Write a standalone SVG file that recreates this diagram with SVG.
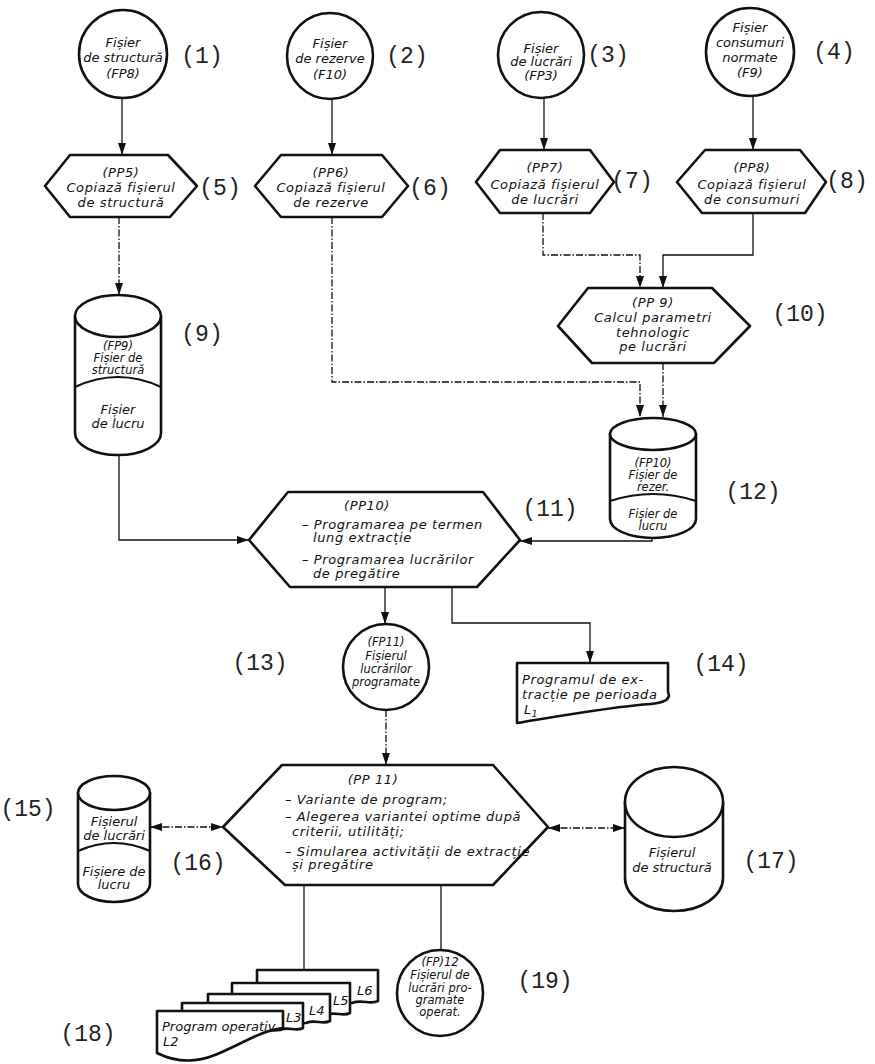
<svg xmlns="http://www.w3.org/2000/svg" width="875" height="1064" viewBox="0 0 875 1064">
<style>
.s{fill:#fff;stroke:#111;stroke-width:2.6;stroke-linejoin:round}
.e{fill:none;stroke:#111;stroke-width:2.2}
.c{fill:none;stroke:#111;stroke-width:1.3}
.d{stroke-dasharray:7 2 1.5 2}
.t{font-family:"DejaVu Sans",sans-serif;font-style:italic;font-size:13px;fill:#111;letter-spacing:0.6px}
.m{text-anchor:middle}
.k{letter-spacing:0}
.sm{font-size:11.5px}
.n{font-family:"Liberation Mono",monospace;font-size:23px;fill:#222;text-anchor:middle}
</style>
<defs>
<marker id="a" viewBox="0 0 12 8" refX="12" refY="4" markerWidth="12" markerHeight="8" orient="auto-start-reverse" markerUnits="userSpaceOnUse"><path d="M0,0 L12,4 L0,8 z" fill="#111"/></marker>
</defs>
<rect width="875" height="1064" fill="#fff"/>

<g id="connectors">
<path class="c" d="M122,98 V155" marker-end="url(#a)"/>
<path class="c" d="M332,99 V155" marker-end="url(#a)"/>
<path class="c" d="M544,98 V150" marker-end="url(#a)"/>
<path class="c" d="M753,96 V150" marker-end="url(#a)"/>
<path class="c d" d="M119,217 V295" marker-end="url(#a)"/>
<path class="c d" d="M332,217 V382 H640 V417" marker-end="url(#a)"/>
<path class="c d" d="M543,213 V255 H640 V288" marker-end="url(#a)"/>
<path class="c" d="M753,213 V255 H663 V288" marker-end="url(#a)"/>
<path class="c d" d="M663,363 V417" marker-end="url(#a)"/>
<path class="c" d="M119,455 V540 H249" marker-end="url(#a)"/>
<path class="c" d="M652,537 V541 H520" marker-end="url(#a)"/>
<path class="c" d="M385,587 V624" marker-end="url(#a)"/>
<path class="c" d="M452,587 V623 H590 V663" marker-end="url(#a)"/>
<path class="c d" d="M386,710 V765" marker-end="url(#a)"/>
<path class="c d" d="M150,827 H223" marker-start="url(#a)" marker-end="url(#a)"/>
<path class="c d" d="M548,828 H625" marker-start="url(#a)" marker-end="url(#a)"/>
<path class="c" d="M304,885 V970"/>
<path class="c" d="M441,885 V950"/>
</g>

<g id="n1">
<circle class="s" cx="123" cy="54" r="44"/>
<text class="t m k" x="123" y="47">Fișier</text>
<text class="t m k" x="123" y="62">de structură</text>
<text class="t m k" x="123" y="78">(FP8)</text>
</g>
<g id="n2">
<circle class="s" cx="330" cy="56" r="43"/>
<text class="t m k" x="330" y="48">Fișier</text>
<text class="t m k" x="330" y="63">de rezerve</text>
<text class="t m k" x="330" y="79">(F10)</text>
</g>
<g id="n3">
<circle class="s" cx="541" cy="55" r="43"/>
<text class="t m k" x="541" y="53">Fișier</text>
<text class="t m k" x="541" y="66">de lucrări</text>
<text class="t m k" x="541" y="80">(FP3)</text>
</g>
<g id="n4">
<circle class="s" cx="750" cy="52" r="44"/>
<text class="t m k" x="750" y="32">Fișier</text>
<text class="t m k" x="750" y="47">consumuri</text>
<text class="t m k" x="750" y="62">normate</text>
<text class="t m k" x="750" y="77">(F9)</text>
</g>

<g id="n5">
<polygon class="s" points="45,186 70,155 168,155 197,186 170,217 70,217"/>
<text class="t m" x="121" y="177">(PP5)</text>
<text class="t m" x="121" y="192">Copiază fișierul</text>
<text class="t m" x="121" y="207">de structură</text>
</g>
<g id="n6">
<polygon class="s" points="255,186 281,155 382,155 408,186 382,217 281,217"/>
<text class="t m" x="331" y="177">(PP6)</text>
<text class="t m" x="331" y="192">Copiază fișierul</text>
<text class="t m" x="331" y="207">de rezerve</text>
</g>
<g id="n7">
<polygon class="s" points="476,182 500,150 590,150 614,182 590,213 500,213"/>
<text class="t m" x="545" y="172">(PP7)</text>
<text class="t m" x="545" y="189">Copiază fișierul</text>
<text class="t m" x="545" y="204">de lucrări</text>
</g>
<g id="n8">
<polygon class="s" points="677,182 705,150 800,150 826,182 805,213 702,213"/>
<text class="t m" x="752" y="172">(PP8)</text>
<text class="t m" x="752" y="189">Copiază fișierul</text>
<text class="t m" x="752" y="204">de consumuri</text>
</g>

<g id="n9">
<path class="s" d="M75,316 V433 A43,22 0 0 0 161,433 V316 Z"/>
<ellipse class="s" cx="118" cy="316" rx="43" ry="21"/>
<path class="e" d="M75,387 Q118,367 161,387"/>
<text class="t m k sm" x="118" y="350">(FP9)</text>
<text class="t m k sm" x="118" y="362">Fișier de</text>
<text class="t m k sm" x="118" y="374">structură</text>
<text class="t m k" x="118" y="414">Fișier</text>
<text class="t m k" x="118" y="428">de lucru</text>
</g>

<g id="n10">
<polygon class="s" points="558,326 588,288 712,288 750,326 714,363 592,363"/>
<text class="t m" x="653" y="307">(PP 9)</text>
<text class="t m" x="653" y="322">Calcul parametri</text>
<text class="t m" x="653" y="337">tehnologic</text>
<text class="t m" x="653" y="351">pe lucrări</text>
</g>

<g id="n12">
<path class="s" d="M610,434 V519 A43,19 0 0 0 696,519 V434 Z"/>
<ellipse class="s" cx="653" cy="434" rx="43" ry="16"/>
<path class="e" d="M610,501 Q653,487 696,501"/>
<text class="t m k sm" x="653" y="467">(FP10)</text>
<text class="t m k sm" x="653" y="479">Fișier de</text>
<text class="t m k sm" x="653" y="491">rezer.</text>
<text class="t m k sm" x="653" y="518">Fișier de</text>
<text class="t m k sm" x="653" y="530">lucru</text>
</g>

<g id="n11">
<polygon class="s" points="249,540 288,492 483,492 520,540 477,587 290,587"/>
<text class="t m" x="367" y="510">(PP10)</text>
<text class="t" x="302" y="529">– Programarea pe termen</text>
<text class="t" x="313" y="542">lung extracție</text>
<text class="t" x="302" y="564">– Programarea lucrărilor</text>
<text class="t" x="313" y="578">de pregătire</text>
</g>

<g id="n13">
<circle class="s" cx="386" cy="667" r="43"/>
<text class="t m k sm" x="386" y="646">(FP11)</text>
<text class="t m k sm" x="386" y="660">Fișierul</text>
<text class="t m k sm" x="386" y="673">lucrărilor</text>
<text class="t m k sm" x="386" y="686">programate</text>
</g>

<g id="n14">
<path class="s" d="M517,663 H668 V692 C672,700 662,703 650,704 C610,707 560,716 517,723 Z"/>
<text class="t" x="522" y="684">Programul de ex-</text>
<text class="t" x="522" y="699">tracție pe perioada</text>
<text class="t" x="524" y="714">L<tspan dy="3" font-size="9">1</tspan></text>
</g>

<g id="n15">
<path class="s" d="M78,793 V884 A36,18 0 0 0 150,884 V793 Z"/>
<ellipse class="s" cx="114" cy="793" rx="36" ry="17"/>
<path class="e" d="M78,851 Q114,835 150,851"/>
<text class="t m k" x="114" y="826">Fișierul</text>
<text class="t m k" x="114" y="840">de lucrări</text>
<text class="t m k" x="114" y="876">Fișiere de</text>
<text class="t m k" x="114" y="889">lucru</text>
</g>

<g id="n16">
<polygon class="s" points="223,827 282,765 493,765 548,827 493,885 285,885"/>
<text class="t m" x="373" y="784">(PP 11)</text>
<text class="t" x="285" y="804">– Variante de program;</text>
<text class="t" x="285" y="821">– Alegerea variantei optime după</text>
<text class="t" x="292" y="836">criterii, utilități;</text>
<text class="t" x="285" y="856">– Simularea activității de extracție</text>
<text class="t" x="292" y="869">și pregătire</text>
</g>

<g id="n17">
<path class="s" d="M625,802 V878 A49,33 0 0 0 723,878 V802 Z"/>
<ellipse class="s" cx="674" cy="802" rx="49" ry="35"/>
<text class="t m k" x="672" y="857">Fișierul</text>
<text class="t m k" x="672" y="872">de structură</text>
</g>

<g id="n18">
<path class="s" d="M257,970 H378 V1001 C370,1005 362,999 352,1003 L257,1010 Z"/>
<path class="s" d="M232,983 H350 V1013 C343,1017 335,1011 326,1015 L232,1022 Z"/>
<path class="s" d="M208,994 H330 V1021 C323,1025 315,1019 306,1023 L208,1030 Z"/>
<path class="s" d="M182,1003 H303 V1028 C296,1032 288,1026 280,1030 L182,1037 Z"/>
<path class="s" d="M157,1011 H283 V1028 C262,1030 240,1045 215,1055 C195,1063 175,1062 157,1053 Z"/>
<text class="t k" x="357" y="995">L6</text>
<text class="t k" x="333" y="1005">L5</text>
<text class="t k" x="309" y="1015">L4</text>
<text class="t k" x="286" y="1022">L3</text>
<text class="t k" x="162" y="1031" font-size="12">Program operativ</text>
<text class="t k" x="163" y="1046">L2</text>
</g>

<g id="n19">
<circle class="s" cx="440" cy="993" r="43"/>
<text class="t m k sm" x="440" y="966">(FP)12</text>
<text class="t m k sm" x="440" y="979">Fișierul de</text>
<text class="t m k sm" x="440" y="992">lucrări pro-</text>
<text class="t m k sm" x="440" y="1004">gramate</text>
<text class="t m k sm" x="440" y="1016">operat.</text>
</g>

<g id="labels">
<text class="n" x="202" y="63">(1)</text>
<text class="n" x="407" y="63">(2)</text>
<text class="n" x="608" y="62">(3)</text>
<text class="n" x="834" y="59">(4)</text>
<text class="n" x="220" y="195">(5)</text>
<text class="n" x="430" y="195">(6)</text>
<text class="n" x="632" y="188">(7)</text>
<text class="n" x="847" y="188">(8)</text>
<text class="n" x="202" y="341">(9)</text>
<text class="n" x="800" y="321">(10)</text>
<text class="n" x="550" y="516">(11)</text>
<text class="n" x="753" y="499">(12)</text>
<text class="n" x="260" y="670">(13)</text>
<text class="n" x="721" y="671">(14)</text>
<text class="n" x="28" y="816">(15)</text>
<text class="n" x="198" y="870">(16)</text>
<text class="n" x="771" y="868">(17)</text>
<text class="n" x="88" y="1041">(18)</text>
<text class="n" x="545" y="988">(19)</text>
</g>
</svg>
